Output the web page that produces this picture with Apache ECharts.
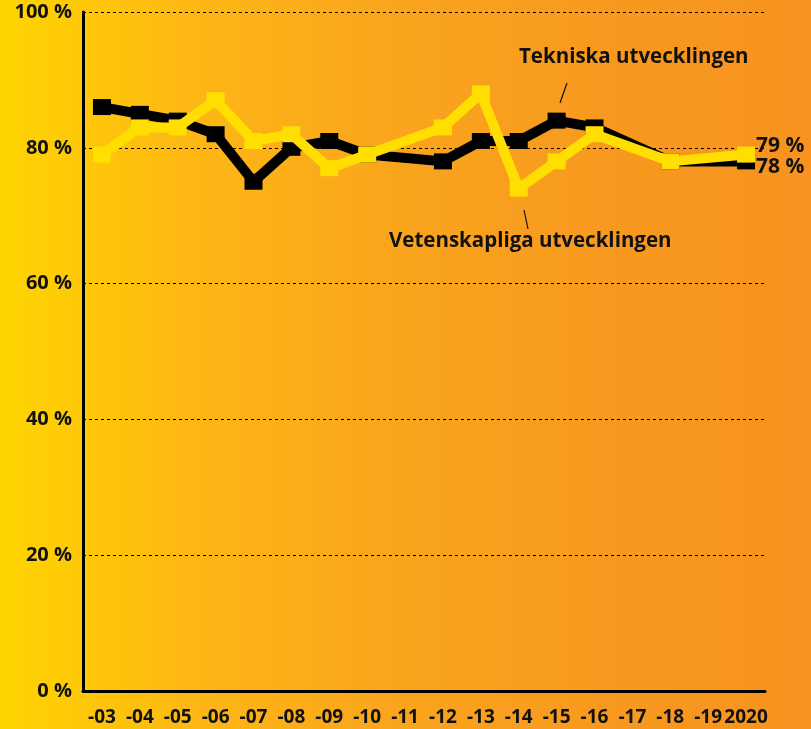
<!DOCTYPE html>
<html><head><meta charset="utf-8">
<script src="https://cdn.jsdelivr.net/npm/echarts@6/dist/echarts.min.js"></script>
<style>html,body{margin:0;padding:0;}#c{width:811px;height:729px;}</style>
</head><body><div id="c"></div>
<script>
const categories = ['-03','-04','-05','-06','-07','-08','-09','-10','-11','-12','-13','-14','-15','-16','-17','-18','-19','2020'];
const tekniska = [86, 85, 84, 82, 75, 80, 81, 79, null, 78, 81, 81, 84, 83, null, 78, null, 78];
const vetenskapliga = [79, 83, 83, 87, 81, 82, 77, 79, null, 83, 88, 74, 78, 82, null, 78, null, 79];
const yTicks = [0, 20, 40, 60, 80, 100];

const FONT = '"Open Sans", sans-serif';
const chart = echarts.init(document.getElementById('c'));
chart.setOption({
  backgroundColor: {type:'linear', x:0, y:0, x2:1, y2:0, colorStops:[
    {offset:0, color:'#FFD400'}, {offset:0.25, color:'#FDB615'}, {offset:0.5, color:'#FAA41D'},
    {offset:0.75, color:'#F8991F'}, {offset:1, color:'#F7931E'}]},
  animation: false,
  grid: {left: 83, right: 46, top: 12, bottom: 38, containLabel: false},
  xAxis: {
    type: 'category', data: categories, boundaryGap: true,
    axisLine: {show: true, lineStyle: {color: '#000', width: 3}},
    axisTick: {show: false},
    axisLabel: {color: '#111', fontFamily: FONT, fontWeight: 'bold', fontSize: 19, margin: 17, interval: 0}
  },
  yAxis: {
    type: 'value', min: 0, max: 100, interval: 20,
    axisLine: {show: true, lineStyle: {color: '#000', width: 3}},
    axisTick: {show: false},
    splitLine: {show: true, lineStyle: {color: '#000', width: 1, type: [3, 3]}},
    axisLabel: {color: '#111', fontFamily: FONT, fontWeight: 'bold', fontSize: 20, margin: 11,
      padding: [8, 0, 0, 0],
      formatter: v => yTicks.includes(v) ? v + ' %' : ''}
  },
  series: [
    {name: 'Tekniska utvecklingen', type: 'line', data: tekniska, connectNulls: true,
     symbol: 'rect', symbolSize: [18, 16], itemStyle: {color: '#000'},
     lineStyle: {color: '#000', width: 10}, z: 2,
     endLabel: {show: true, formatter: p => p.value + ' %', color: '#111', fontFamily: FONT,
       fontWeight: 'bold', fontSize: 21, distance: 10, offset: [0, 6]}},
    {name: 'Vetenskapliga utvecklingen', type: 'line', data: vetenskapliga, connectNulls: true,
     symbol: 'rect', symbolSize: [18, 16], itemStyle: {color: '#FFDE00'},
     lineStyle: {color: '#FFDE00', width: 10}, z: 3,
     endLabel: {show: true, formatter: p => p.value + ' %', color: '#111', fontFamily: FONT,
       fontWeight: 'bold', fontSize: 21, distance: 10, offset: [0, -9]}}
  ],
  graphic: [
    {type: 'text', left: 519, top: 47, style: {text: 'Tekniska utvecklingen', fill: '#111',
      font: 'bold 20.5px "Open Sans", sans-serif'}},
    {type: 'line', shape: {x1: 560, y1: 103, x2: 567, y2: 83}, style: {stroke: '#111', lineWidth: 1.2}},
    {type: 'text', left: 389, top: 231, style: {text: 'Vetenskapliga utvecklingen', fill: '#111',
      font: 'bold 20.5px "Open Sans", sans-serif'}},
    {type: 'line', shape: {x1: 524, y1: 210, x2: 528, y2: 229}, style: {stroke: '#111', lineWidth: 1.2}}
  ]
});
</script></body></html>
